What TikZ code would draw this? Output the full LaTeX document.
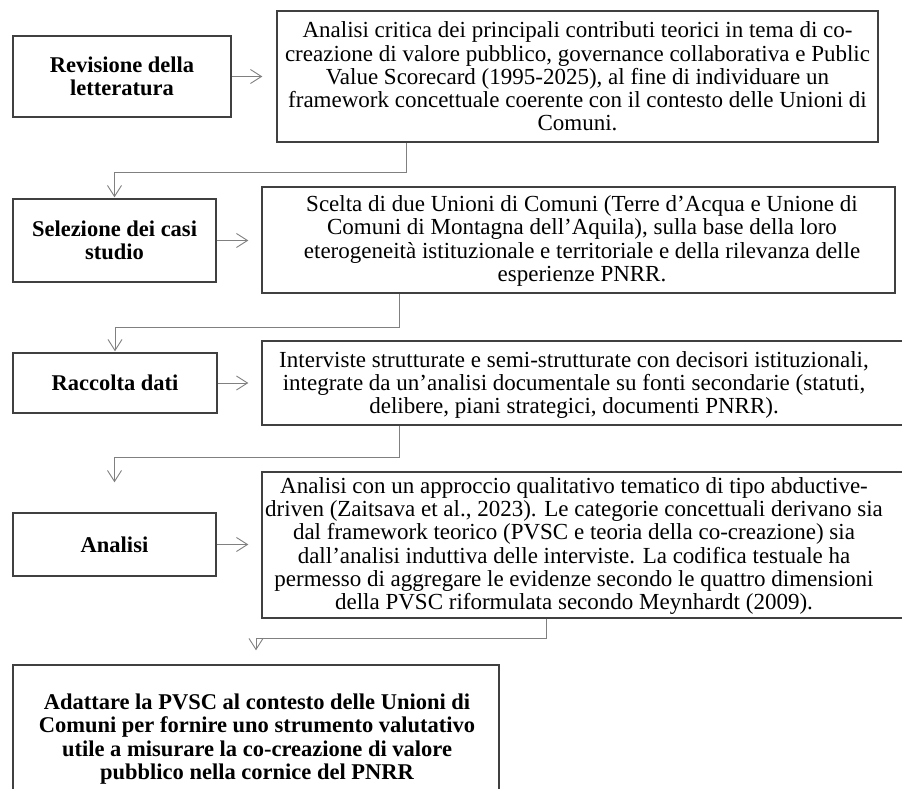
\documentclass[tikz,border=0pt]{standalone}
\usepackage{fontspec}
\setmainfont{Liberation Serif}
\usetikzlibrary{arrows.meta,calc}
\definecolor{boxline}{HTML}{404040}
\definecolor{connline}{HTML}{808080}
\tikzset{
  box/.style={draw=boxline, line width=1.4pt, inner sep=0pt, align=center},
  conn/.style={draw=connline, line width=0.9pt, -{Straight Barb[length=11pt,width=14pt]}},
  txt/.style={inner sep=0pt, align=center, font=\fontsize{23}{23.3}\selectfont},
  btxt/.style={inner sep=0pt, align=center, font=\fontsize{22.5}{23.3}\selectfont\bfseries}
}
\begin{document}
\begin{tikzpicture}[x=1pt,y=-1pt]
\clip (0,0) rectangle (902,789);
\fill[white] (0,0) rectangle (902,789);
% step boxes (left)
\node[box, minimum width=218pt, minimum height=81pt, btxt] (B1L) at (122,76.5) {Revisione della\\letteratura};
\node[box, minimum width=203pt, minimum height=83pt, btxt] (B2L) at (114.5,240.5) {Selezione dei casi\\studio};
\node[box, minimum width=204pt, minimum height=60pt, btxt] (B3L) at (115,383) {Raccolta dati};
\node[box, minimum width=203pt, minimum height=63pt, btxt] (B4L) at (114.5,544.5) {Analisi};
\node[box, minimum width=486pt, minimum height=143pt] (B5) at (256,736.5) {};
\node[btxt] (B5t) at (257,739) {Adattare la PVSC al contesto delle Unioni di\\Comuni per fornire uno strumento valutativo\\utile a misurare la co-creazione di valore\\pubblico nella cornice del PNRR};
% description boxes (right)
\node[box, minimum width=601pt, minimum height=131pt, txt] (B1R) at (577.5,76.5) {Analisi critica dei principali contributi teorici in tema di co-\\creazione di valore pubblico, governance collaborativa e Public\\Value Scorecard (1995-2025), al fine di individuare un\\framework concettuale coerente con il contesto delle Unioni di\\Comuni.};
\node[box, minimum width=633pt, minimum height=106pt] (B2R) at (578.5,240) {};
\node[txt] (B2Rt) at (582,241) {Scelta di due Unioni di Comuni (Terre d’Acqua e Unione di\\Comuni di Montagna dell’Aquila), sulla base della loro\\eterogeneità istituzionale e territoriale e della rilevanza delle\\esperienze PNRR.};
\node[box, minimum width=650pt, minimum height=84pt] (B3R) at (587,383) {};
\node[txt] (B3Rt) at (574,385) {Interviste strutturate e semi-strutturate con decisori istituzionali,\\integrate da un’analisi documentale su fonti secondarie (statuti,\\delibere, piani strategici, documenti PNRR).};
\node[box, minimum width=650pt, minimum height=146pt] (B4R) at (587,545) {};
\node[txt] (B4Rt) at (574,546) {Analisi con un approccio qualitativo tematico di tipo abductive-\\driven (Zaitsava et al., 2023). Le categorie concettuali derivano sia\\dal framework teorico (PVSC e teoria della co-creazione) sia\\dall’analisi induttiva delle interviste. La codifica testuale ha\\permesso di aggregare le evidenze secondo le quattro dimensioni\\della PVSC riformulata secondo Meynhardt (2009).};
% horizontal arrows
\draw[conn, shorten >=14pt] (B1L.east) -- (B1L.east -| B1R.west);
\draw[conn, shorten >=13pt] (B2L.east) -- (B2L.east -| B2R.west);
\draw[conn, shorten >=13pt] (B3L.east) -- (B3L.east -| B3R.west);
\draw[conn, shorten >=13pt] (B4L.east) -- (B4L.east -| B4R.west);
% vertical connectors
\draw[conn, shorten >=1pt] ([xshift=130pt]B1R.south west) -- ++(0,30) -| (B2L.north);
\draw[conn, shorten >=1pt] ([xshift=138pt]B2R.south west) -- ++(0,34) -| (B3L.north);
\draw[conn, shorten >=30pt] ([xshift=138pt]B3R.south west) -- ++(0,32) -| (B4L.north);
\draw[conn, shorten >=14pt] ([xshift=285pt]B4R.south west) -- ++(0,20) -| (B5.north);
\end{tikzpicture}
\end{document}
